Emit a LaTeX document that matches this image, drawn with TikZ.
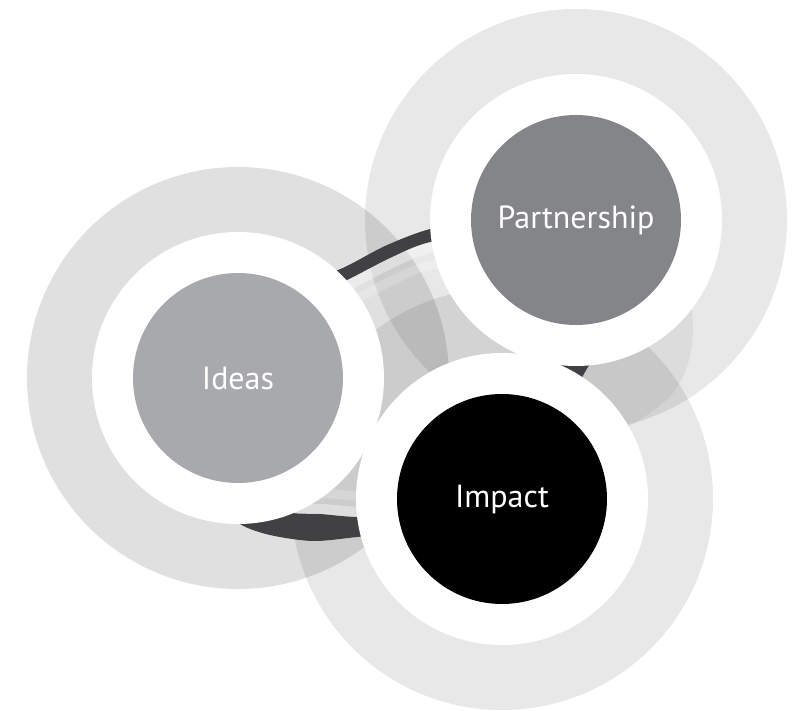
\documentclass[tikz,border=0pt]{standalone}
\usepackage{fontspec}
\setmainfont{PT Sans}
\definecolor{ideasgray}{RGB}{168,169,173}
\definecolor{partgray}{RGB}{132,133,137}
\definecolor{torusdark}{RGB}{65,65,67}

\begin{document}
\begin{tikzpicture}[x=1pt, y=-1pt,
	halo/.style={circle, minimum size=422pt, inner sep=0pt, fill=black, fill opacity=0.09},
	whitering/.style={circle, minimum size=292pt, inner sep=0pt, fill=white},
	core/.style={circle, minimum size=210pt, inner sep=0pt, text=white, font=\fontsize{32}{32}\selectfont},
	torusband/.style={fill=torusdark, even odd rule},
	glint/.style={draw=white, draw opacity=0.35, line width=10pt}
	]
	\useasboundingbox (0,0) rectangle (795,711);
	
	% outer halos
	\node[halo, fill opacity=0.12] (ideashalo) at (238,378) {};
	\node[halo] (parthalo) at (576,220) {};
	\node[halo] (impacthalo) at (502,499) {};
	
	% body of the ring, right side
	\fill[black, opacity=0.05] plot[smooth] coordinates {(690,290) (693,333) (687,367) (673,393) (650,413) (615,435)} -- (575,400) -- (590,330) -- (650,280) -- cycle;
	
	% dark ring
	\fill[torusband] plot[smooth cycle] coordinates {(338,270) (385,246) (430,229) (500,214) (570,240) (610,300) (600,345) (585,372) (560,415) (500,500) (420,530) (357,537) (313,541) (270,535) (240,524) (215,500) (190,420) (220,320) (290,282)}
		plot[smooth cycle] coordinates {(300,300) (345,281) (390,258) (430,242) (500,232) (560,270) (560,320) (539,359) (520,400) (470,470) (400,515) (357,517) (320,514) (287,512) (250,495) (225,440) (250,340)};
	
	% light stripes inside the ring
	\begin{scope}[scale around={0.96:(420,390)}]
		\draw[glint] plot[smooth cycle] coordinates {(300,300) (345,281) (390,258) (430,242) (500,232) (560,270) (560,320) (539,359) (520,400) (470,470) (400,515) (357,517) (320,514) (287,512) (250,495) (225,440) (250,340)};
	\end{scope}
	\begin{scope}[scale around={0.84:(420,390)}]
		\draw[glint, draw opacity=0.2, line width=9pt] plot[smooth cycle] coordinates {(300,300) (345,281) (390,258) (430,242) (500,232) (560,270) (560,320) (539,359) (520,400) (470,470) (400,515) (357,517) (320,514) (287,512) (250,495) (225,440) (250,340)};
	\end{scope}
	
	% white rings
	\node[whitering] (ideasring) at (ideashalo) {};
	\node[whitering] (partring) at (parthalo) {};
	\node[whitering] (impactring) at (impacthalo) {};
	
	% cores
	\node[core, fill=ideasgray] (ideas) at (ideasring) {Ideas};
	\node[core, fill=partgray] (partnership) at (partring) {Partnership};
	\node[core, fill=black] (impact) at (impactring) {Impact};
\end{tikzpicture}
\end{document}
